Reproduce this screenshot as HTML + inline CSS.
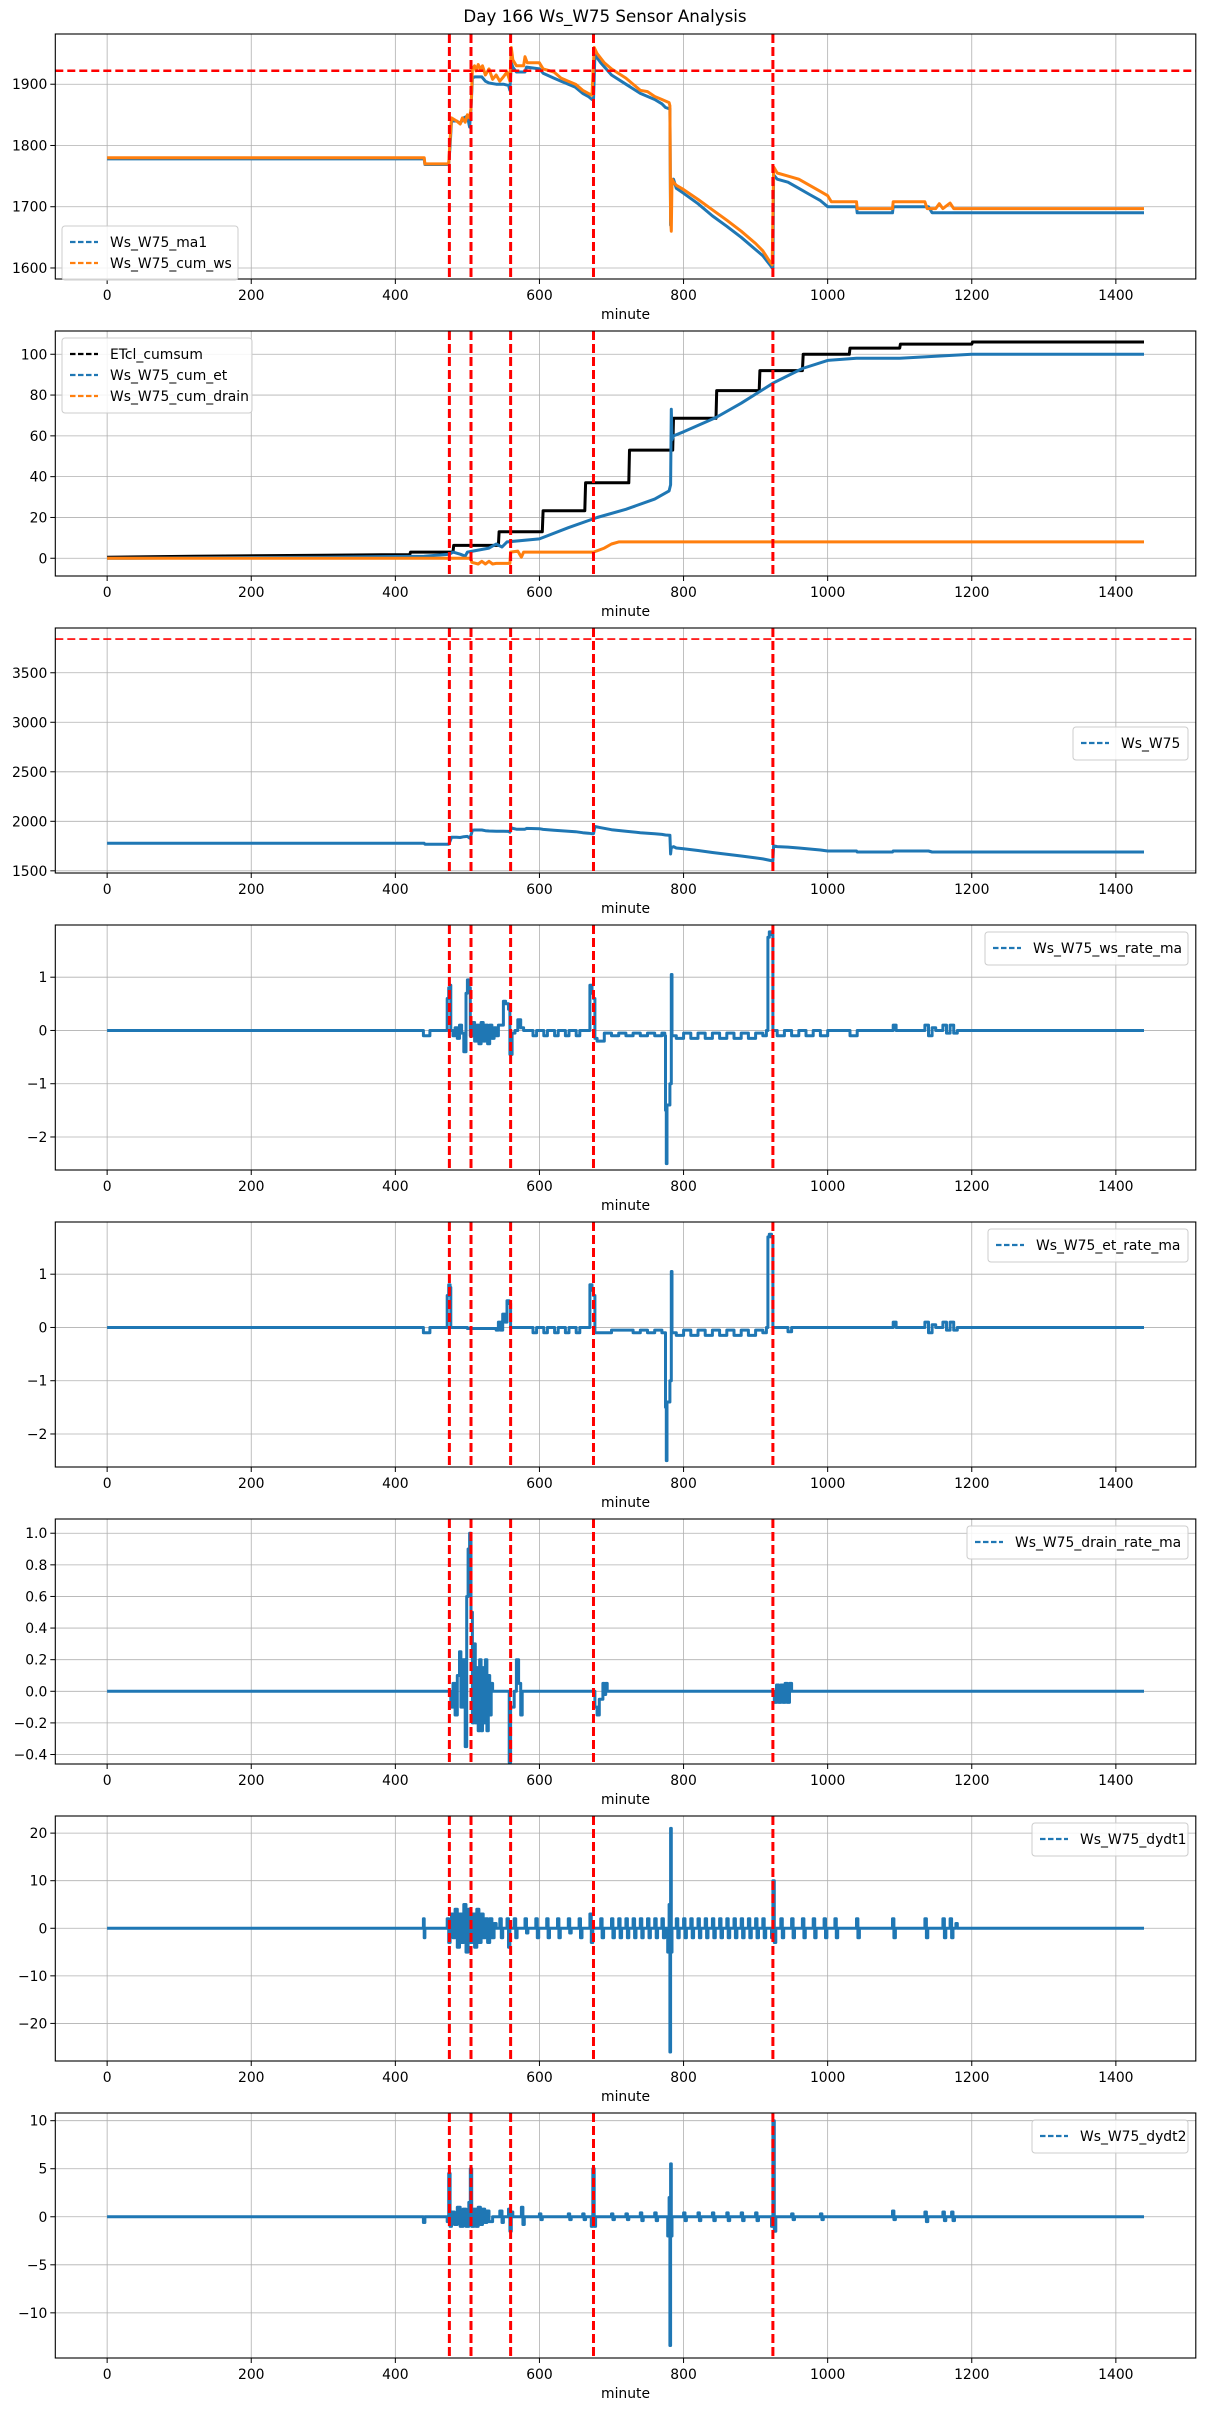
<!DOCTYPE html>
<html><head><meta charset="utf-8"><style>
body{margin:0;background:#fff;}
svg{display:block;font-family:"DejaVu Sans","Liberation Sans",sans-serif;}
</style></head><body>
<svg id="chart" width="1211" height="2411" viewBox="0 0 1211 2411" xmlns="http://www.w3.org/2000/svg">
<rect x="0" y="0" width="1211" height="2411" fill="#fff"/>
<text x="605" y="22" text-anchor="middle" font-size="16.7" fill="#000">Day 166 Ws_W75 Sensor Analysis</text>
</svg>
<script>
// ---- data ----
const xTicks = [0,200,400,600,800,1000,1200,1400];
const eventMinutes = [475,505,560,675,924];
const ws = [[0,1778],[440,1778],[441,1769],[474,1769],[476,1800],[478,1840],[485,1840],[490,1836],[495,1845],[500,1848],[503,1830],[505,1860],[507,1910],[510,1912],[520,1912],[525,1905],[530,1902],[540,1900],[550,1900],[557,1898],[559,1890],[561,1935],[563,1928],[568,1920],[580,1920],[582,1928],[600,1925],[605,1918],[620,1910],[630,1905],[640,1900],[650,1895],[660,1885],[668,1880],[673,1875],[675,1875],[677,1948],[685,1935],[700,1915],[720,1900],[740,1885],[760,1875],[770,1868],[775,1862],[780,1860],[781,1860],[782,1670],[783,1740],[784,1735],[786,1745],[790,1730],[800,1722],[820,1705],[840,1685],[860,1668],[880,1650],[900,1630],[910,1620],[920,1605],[923,1600],[924,1600],[925,1752],[930,1745],[945,1740],[960,1730],[975,1720],[990,1710],[1000,1700],[1040,1700],[1041,1690],[1090,1690],[1091,1700],[1140,1700],[1145,1690],[1439,1690]];
const cumWs = [[0,1780],[440,1780],[441,1770],[474,1770],[476,1810],[478,1845],[485,1840],[490,1835],[493,1845],[497,1838],[500,1850],[503,1845],[505,1860],[507,1925],[510,1930],[512,1922],[515,1932],[518,1925],[521,1930],[525,1915],[530,1925],[535,1908],[540,1915],[545,1905],[550,1912],[555,1920],[559,1905],[561,1960],[563,1940],[568,1930],[578,1930],[580,1945],[583,1935],[600,1935],[605,1925],[620,1920],[630,1910],[640,1905],[650,1900],[660,1890],[668,1885],[673,1882],[676,1960],[680,1950],[690,1935],[700,1925],[720,1910],[740,1890],[750,1888],[760,1880],[770,1875],[780,1870],[781,1865],[782,1680],[783,1660],[784,1745],[786,1740],[790,1735],[800,1728],[820,1712],[840,1695],[860,1678],[880,1660],[900,1640],[910,1628],[920,1610],[923,1605],[925,1765],[930,1755],[945,1750],[960,1745],[975,1735],[990,1725],[1000,1718],[1005,1708],[1040,1708],[1041,1697],[1090,1697],[1091,1708],[1135,1708],[1138,1697],[1150,1697],[1155,1705],[1160,1697],[1170,1706],[1175,1697],[1439,1697]];
const etclCumsum = [[0,0.5],[120,1],[300,1.5],[420,1.8],[421,3],[480,3],[481,6.3],[543,6.3],[544,13],[604,13],[605,23.3],[663,23.3],[664,37],[724,37],[725,53],[785,53],[786,68.6],[845,68.6],[846,82.2],[905,82.2],[906,92],[965,92],[966,100],[1030,100],[1031,103],[1100,103],[1101,105],[1200,105],[1201,106],[1439,106]];
const cumEt = [[0,0],[300,0.5],[440,1],[475,2],[480,3],[490,2],[497,1],[500,3],[530,5],[540,7],[548,5.5],[555,8],[600,9.5],[640,15],[680,20],[720,24],[760,29],[780,33],[782,36],[783,73],[784,58],[786,60],[800,62],[845,69],[880,76],[925,86],[965,93],[1000,97],[1040,98],[1100,98],[1150,99],[1200,100],[1439,100]];
const cumDrain = [[0,0],[475,0],[505,0],[506,-2],[515,-2.8],[520,-1.5],[525,-2.8],[530,-1.5],[535,-2.8],[540,-2.5],[559,-2.5],[560,3],[570,3.5],[575,0.5],[578,3],[600,3],[675,3],[690,5],[700,7],[710,8],[1439,8]];
const wsRate = [[0,0],[438,0],[439,-0.1],[447,-0.1],[448,0],[471,0],[472,0.6],[474,0.8],[476,0.85],[477,0],[480,-0.1],[483,0.05],[486,-0.15],[489,0.1],[492,-0.05],[495,-0.4],[498,0.7],[500,0.95],[502,0.8],[504,-0.1],[507,0.15],[510,-0.2],[513,0.1],[516,-0.25],[519,0.15],[522,-0.2],[525,0.1],[528,-0.25],[531,0.1],[534,-0.15],[537,0.05],[540,-0.1],[543,0.1],[547,0.1],[550,0.55],[553,0.5],[557,0.4],[559,-0.45],[562,-0.05],[566,0],[570,0.2],[574,0.05],[578,0],[590,0],[591,-0.1],[595,-0.1],[596,0],[605,0],[606,-0.1],[610,-0.1],[611,0],[620,0],[621,-0.1],[625,-0.1],[626,0],[635,0],[636,-0.1],[640,-0.1],[641,0],[650,0],[651,-0.1],[655,-0.1],[656,0],[668,0],[670,0.85],[673,0.7],[675,0.6],[677,-0.15],[680,-0.2],[690,-0.05],[700,-0.1],[710,-0.05],[720,-0.1],[730,-0.05],[740,-0.1],[750,-0.05],[760,-0.1],[770,-0.05],[774,-0.1],[775,-1.5],[776,-2.5],[777,-1.4],[779,-1.4],[781,-1.0],[783,1.05],[784,-0.1],[790,-0.15],[800,-0.05],[810,-0.15],[820,-0.05],[830,-0.15],[840,-0.05],[850,-0.15],[860,-0.05],[870,-0.15],[880,-0.05],[890,-0.15],[900,-0.05],[910,-0.1],[915,0],[917,1.75],[919,1.85],[922,1.8],[924,0],[930,-0.1],[940,0],[950,-0.1],[960,0],[970,-0.1],[980,0],[990,-0.1],[1000,0],[1030,0],[1031,-0.1],[1040,-0.1],[1041,0],[1090,0],[1091,0.1],[1095,0],[1130,0],[1135,0.1],[1140,-0.1],[1145,0.05],[1150,0],[1160,0.1],[1165,-0.05],[1170,0.1],[1175,-0.05],[1180,0],[1439,0]];
const etRate = [[0,0],[438,0],[439,-0.1],[447,-0.1],[448,0],[471,0],[472,0.6],[474,0.8],[476,0.75],[477,0],[500,-0.02],[540,-0.05],[543,0.1],[546,-0.05],[549,0.25],[552,0.1],[555,0.5],[558,0.45],[560,0],[590,0],[591,-0.1],[595,-0.1],[596,0],[605,0],[606,-0.1],[610,-0.1],[611,0],[620,0],[621,-0.1],[625,-0.1],[626,0],[635,0],[636,-0.1],[640,-0.1],[641,0],[650,0],[651,-0.1],[655,-0.1],[656,0],[668,0],[670,0.8],[673,0.7],[675,0.6],[677,-0.1],[700,-0.05],[720,-0.05],[730,-0.1],[740,-0.05],[750,-0.1],[760,-0.05],[770,-0.1],[774,-0.1],[775,-1.5],[776,-2.5],[777,-1.4],[779,-1.4],[781,-1.0],[783,1.05],[784,-0.1],[790,-0.15],[800,-0.05],[810,-0.15],[820,-0.05],[830,-0.15],[840,-0.05],[850,-0.15],[860,-0.05],[870,-0.15],[880,-0.05],[890,-0.15],[900,-0.05],[910,-0.1],[915,0],[917,1.7],[919,1.75],[922,1.7],[924,0],[940,0],[945,-0.08],[950,0],[1000,0],[1090,0],[1091,0.1],[1095,0],[1130,0],[1135,0.1],[1140,-0.1],[1145,0.05],[1150,0],[1160,0.1],[1165,-0.05],[1170,0.1],[1175,-0.05],[1180,0],[1439,0]];
const drainRate = [[0,0],[475,0],[477,-0.1],[480,0.05],[483,-0.15],[486,0.1],[489,0.25],[491,-0.1],[494,0.2],[497,-0.35],[499,0.6],[501,0.9],[503,1.0],[505,0.5],[507,-0.2],[509,0.3],[511,-0.2],[513,0.15],[515,-0.25],[517,0.2],[519,-0.25],[521,0.15],[523,-0.2],[525,0.2],[527,-0.25],[529,0.1],[531,-0.15],[533,0.05],[535,0],[556,0],[558,-0.45],[560,-0.1],[563,-0.1],[565,0],[568,0.2],[571,0.05],[574,-0.15],[576,0],[675,0],[677,-0.1],[680,-0.15],[683,-0.05],[686,-0.05],[688,0.05],[690,-0.02],[692,0.05],[694,0],[924,0],[926,-0.07],[929,0.04],[932,-0.07],[935,0.04],[938,-0.07],[941,0.05],[944,-0.07],[947,0.05],[950,0],[1439,0]];
const dydt1 = [[0,0],[438,0],[439,2],[440,-2],[441,0],[470,0],[472,2],[474,-3],[476,0],[478,3],[480,-2],[483,4],[486,-4],[489,3],[492,-3],[495,5],[498,-5],[501,4],[504,-3],[507,3],[510,-4],[513,4],[516,-3],[519,3],[522,-2],[525,2],[528,-3],[531,2],[534,-2],[537,1],[540,0],[545,2],[547,-2],[549,0],[555,2],[557,-4],[559,0],[565,2],[567,-2],[569,0],[580,2],[582,-1],[584,0],[595,2],[597,-2],[599,0],[610,2],[612,-2],[614,0],[625,2],[627,-2],[629,0],[640,2],[642,-1],[644,0],[655,2],[657,-2],[659,0],[670,3],[672,-3],[674,0],[685,2],[687,-2],[689,0],[700,2],[702,-2],[704,0],[710,2],[712,-2],[714,0],[720,2],[722,-2],[724,0],[730,2],[732,-2],[734,0],[740,2],[742,-2],[744,0],[750,2],[752,-2],[754,0],[760,2],[762,-2],[764,0],[770,2],[772,-2],[774,0],[778,-5],[780,5],[781,-26],[782,21],[783,-5],[784,0],[790,2],[792,-2],[794,0],[800,2],[802,-2],[804,0],[810,2],[812,-2],[814,0],[820,2],[822,-2],[824,0],[830,2],[832,-2],[834,0],[840,2],[842,-2],[844,0],[850,2],[852,-2],[854,0],[860,2],[862,-2],[864,0],[870,2],[872,-2],[874,0],[880,2],[882,-2],[884,0],[890,2],[892,-2],[894,0],[900,2],[902,-2],[904,0],[910,2],[912,-2],[914,0],[922,-2],[924,10],[926,-3],[928,0],[935,2],[937,-2],[939,0],[950,2],[952,-2],[954,0],[965,2],[967,-2],[969,0],[980,2],[982,-2],[984,0],[995,2],[997,-2],[999,0],[1010,2],[1012,-2],[1014,0],[1040,2],[1042,-2],[1044,0],[1090,2],[1092,-2],[1094,0],[1135,2],[1137,-2],[1139,0],[1160,2],[1162,-2],[1164,0],[1170,2],[1172,-2],[1174,0],[1178,1],[1180,0],[1439,0]];
const dydt2 = [[0,0],[438,0],[439,-0.6],[441,0],[472,-0.5],[474,4.5],[476,-1],[478,0.5],[482,-0.8],[486,1],[490,-1],[494,0.8],[498,-1],[502,1.5],[504,5],[506,-1],[509,0.8],[512,-1],[515,1],[518,-0.8],[521,0.8],[524,-0.6],[527,0.6],[530,-0.5],[535,0],[545,0.6],[548,-0.6],[550,0],[557,0.8],[559,-1.5],[561,0.5],[563,0],[575,1],[577,-0.8],[579,0],[600,0.3],[602,-0.3],[604,0],[640,0.3],[642,-0.3],[644,0],[660,0.3],[662,-0.3],[664,0],[672,-1],[674,5],[676,-1],[678,0],[700,0.3],[702,-0.3],[704,0],[720,0.3],[722,-0.3],[724,0],[740,0.4],[742,-0.4],[744,0],[760,0.4],[762,-0.4],[764,0],[778,-2],[780,2],[781,-13.4],[782,5.5],[783,-2],[784,0],[800,0.4],[802,-0.4],[804,0],[820,0.4],[822,-0.4],[824,0],[840,0.4],[842,-0.4],[844,0],[860,0.4],[862,-0.4],[864,0],[880,0.4],[882,-0.4],[884,0],[900,0.4],[902,-0.4],[904,0],[922,-1],[924,10],[926,-1.5],[928,0],[950,0.3],[952,-0.3],[954,0],[990,0.3],[992,-0.3],[994,0],[1090,0.6],[1092,-0.3],[1094,0],[1135,0.5],[1137,-0.5],[1139,0],[1160,0.5],[1162,-0.4],[1164,0],[1172,0.5],[1174,-0.4],[1176,0],[1439,0]];

const p1Ticks = [1600,1700,1800,1900];
const p2Ticks = [0,20,40,60,80,100];
const p3Ticks = [1500,2000,2500,3000,3500];
const p4Ticks = [-2,-1,0,1];
const p6Ticks = [-0.4,-0.2,0,0.2,0.4,0.6,0.8,1.0];
const p6Labels = ["\u22120.4","\u22120.2","0.0","0.2","0.4","0.6","0.8","1.0"];
const p7Ticks = [-20,-10,0,10,20];
const p8Ticks = [-10,-5,0,5,10];
const wsThreshold = 1922;
const rawThreshold = 3840;

// ---- layout ----
const NS = "http://www.w3.org/2000/svg";
const svg = document.getElementById("chart");
const AX_L = 55.3, AX_R = 1195.8, AX_H = 245;
const XMIN = -71.95, XMAX = 1510.95;
const BLUE = "#1f77b4", ORANGE = "#ff7f0e";
function xs(v){ return AX_L + (v - XMIN) / (XMAX - XMIN) * (AX_R - AX_L); }
function el(tag, attrs, parent){
  const e = document.createElementNS(NS, tag);
  for (const k in attrs) e.setAttribute(k, attrs[k]);
  (parent || svg).appendChild(e);
  return e;
}
function fmt(v){ return v < 0 ? "\u2212" + Math.abs(v) : String(v); }

function panel(cfg){
  const g = el("g", {});
  
  
  const top = cfg.top, bot = top + AX_H;
  const ys = v => bot - (v - cfg.ymin) / (cfg.ymax - cfg.ymin) * AX_H;
  const clipId = "clip-" + cfg.name;
  const cp = el("clipPath", {id: clipId}, g);
  el("rect", {x: AX_L, y: top, width: AX_R - AX_L, height: AX_H}, cp);
  xTicks.forEach(t => {
    const l = el("line", {x1: xs(t), x2: xs(t), y1: top, y2: bot, stroke: "#b0b0b0", "stroke-width": 0.8}, g);
    
    
  });
  cfg.yticks.forEach(t => {
    const l = el("line", {x1: AX_L, x2: AX_R, y1: ys(t), y2: ys(t), stroke: "#b0b0b0", "stroke-width": 0.8}, g);
    
    
  });
  const plot = el("g", {"clip-path": "url(#" + clipId + ")"}, g);
  cfg.series.forEach(s => {
    let pts;
    if (cfg.step) {
      const arr = [];
      s.data.forEach((d, i) => {
        if (i > 0) arr.push(xs(d[0]).toFixed(1) + "," + ys(s.data[i-1][1]).toFixed(1));
        arr.push(xs(d[0]).toFixed(1) + "," + ys(d[1]).toFixed(1));
      });
      pts = arr.join(" ");
    } else {
      pts = s.data.map(d => xs(d[0]).toFixed(1) + "," + ys(d[1]).toFixed(1)).join(" ");
    }
    const pl = el("polyline", {points: pts, fill: "none", stroke: s.color, "stroke-width": 3, "stroke-linejoin": "round"}, plot);
    
    
  });
  eventMinutes.forEach(m => {
    const l = el("line", {x1: xs(m), x2: xs(m), y1: top, y2: bot, stroke: "#ff0000", "stroke-width": 3, "stroke-dasharray": "9,4"}, plot);
    
    
  });
  if (cfg.hline !== undefined) {
    const l = el("line", {x1: AX_L, x2: AX_R, y1: ys(cfg.hline), y2: ys(cfg.hline), stroke: "#ff0000", "stroke-width": cfg.hlineW, "stroke-dasharray": "8,4"}, plot);
    
    
  }
  const fr = el("rect", {x: AX_L, y: top, width: AX_R - AX_L, height: AX_H, fill: "none", stroke: "#000", "stroke-width": 1.1}, g);
  
  
  xTicks.forEach(t => {
    el("line", {x1: xs(t), x2: xs(t), y1: bot, y2: bot + 5, stroke: "#000", "stroke-width": 1}, g);
    const tx = el("text", {x: xs(t), y: bot + 21, "text-anchor": "middle", "font-size": 13.9, fill: "#000"}, g);
    tx.textContent = String(t);
    
    
  });
  const xl = el("text", {x: (AX_L + AX_R) / 2, y: bot + 40, "text-anchor": "middle", "font-size": 13.9, fill: "#000"}, g);
  xl.textContent = "minute";
  
  
  cfg.yticks.forEach((t, i) => {
    el("line", {x1: AX_L - 5, x2: AX_L, y1: ys(t), y2: ys(t), stroke: "#000", "stroke-width": 1}, g);
    const tx = el("text", {x: AX_L - 8, y: ys(t) + 5, "text-anchor": "end", "font-size": 13.9, fill: "#000"}, g);
    tx.textContent = cfg.ylabels ? cfg.ylabels[i] : fmt(t);
    
    
  });
  const L = cfg.legend;
  const lg = el("g", {}, g);
  
  
  const h = 12 + L.items.length * 21;
  el("rect", {x: L.x, y: L.y, width: L.w, height: h, rx: 3, fill: "#fff", "fill-opacity": 0.85, stroke: "#cccccc", "stroke-width": 1}, lg);
  L.items.forEach((it, i) => {
    const cy = L.y + 16 + i * 21;
    el("line", {x1: L.x + 8, x2: L.x + 36, y1: cy, y2: cy, stroke: it.color, "stroke-width": 2.2, "stroke-dasharray": "5.5,2.5"}, lg);
    const tx = el("text", {x: L.x + 48, y: cy + 5, "font-size": 13.9, fill: "#000"}, lg);
    tx.textContent = it.label;
    
    
  });
}

panel({name: "panel-ws-cumulative", top: 34, ymin: 1582, ymax: 1982, yticks: p1Ticks, hline: wsThreshold, hlineW: 2.6,
  series: [{data: ws, color: BLUE, dataName: "ws-ma1-line"}, {data: cumWs, color: ORANGE, dataName: "cum-ws-line"}],
  legend: {x: 62, y: 226, w: 176, items: [{label: "Ws_W75_ma1", color: BLUE}, {label: "Ws_W75_cum_ws", color: ORANGE}]}});
panel({name: "panel-cumulative-et", top: 331, ymin: -8.7, ymax: 111.4, yticks: p2Ticks,
  series: [{data: etclCumsum, color: "#000", dataName: "etcl-cumsum-line"}, {data: cumEt, color: BLUE, dataName: "cum-et-line"}, {data: cumDrain, color: ORANGE, dataName: "cum-drain-line"}],
  legend: {x: 62, y: 338, w: 190, items: [{label: "ETcl_cumsum", color: "#000"}, {label: "Ws_W75_cum_et", color: BLUE}, {label: "Ws_W75_cum_drain", color: ORANGE}]}});
panel({name: "panel-ws-raw", top: 628, ymin: 1478, ymax: 3952, yticks: p3Ticks, hline: rawThreshold, hlineW: 1.6,
  series: [{data: ws, color: BLUE, dataName: "ws-line"}],
  legend: {x: 1073, y: 727, w: 115, items: [{label: "Ws_W75", color: BLUE}]}});
panel({name: "panel-ws-rate", top: 925, ymin: -2.62, ymax: 1.98, yticks: p4Ticks, step: true,
  series: [{data: wsRate, color: BLUE, dataName: "ws-rate-line"}],
  legend: {x: 985, y: 932, w: 203, items: [{label: "Ws_W75_ws_rate_ma", color: BLUE}]}});
panel({name: "panel-et-rate", top: 1222, ymin: -2.62, ymax: 1.98, yticks: p4Ticks, step: true,
  series: [{data: etRate, color: BLUE, dataName: "et-rate-line"}],
  legend: {x: 988, y: 1229, w: 200, items: [{label: "Ws_W75_et_rate_ma", color: BLUE}]}});
panel({name: "panel-drain-rate", top: 1519, ymin: -0.46, ymax: 1.09, yticks: p6Ticks, ylabels: p6Labels, step: true,
  series: [{data: drainRate, color: BLUE, dataName: "drain-rate-line"}],
  legend: {x: 967, y: 1526, w: 221, items: [{label: "Ws_W75_drain_rate_ma", color: BLUE}]}});
panel({name: "panel-dydt1", top: 1816, ymin: -27.9, ymax: 23.6, yticks: p7Ticks, step: true,
  series: [{data: dydt1, color: BLUE, dataName: "dydt1-line"}],
  legend: {x: 1032, y: 1823, w: 156, items: [{label: "Ws_W75_dydt1", color: BLUE}]}});
panel({name: "panel-dydt2", top: 2113, ymin: -14.7, ymax: 10.8, yticks: p8Ticks, step: true,
  series: [{data: dydt2, color: BLUE, dataName: "dydt2-line"}],
  legend: {x: 1032, y: 2120, w: 156, items: [{label: "Ws_W75_dydt2", color: BLUE}]}});
</script>
</body></html>
